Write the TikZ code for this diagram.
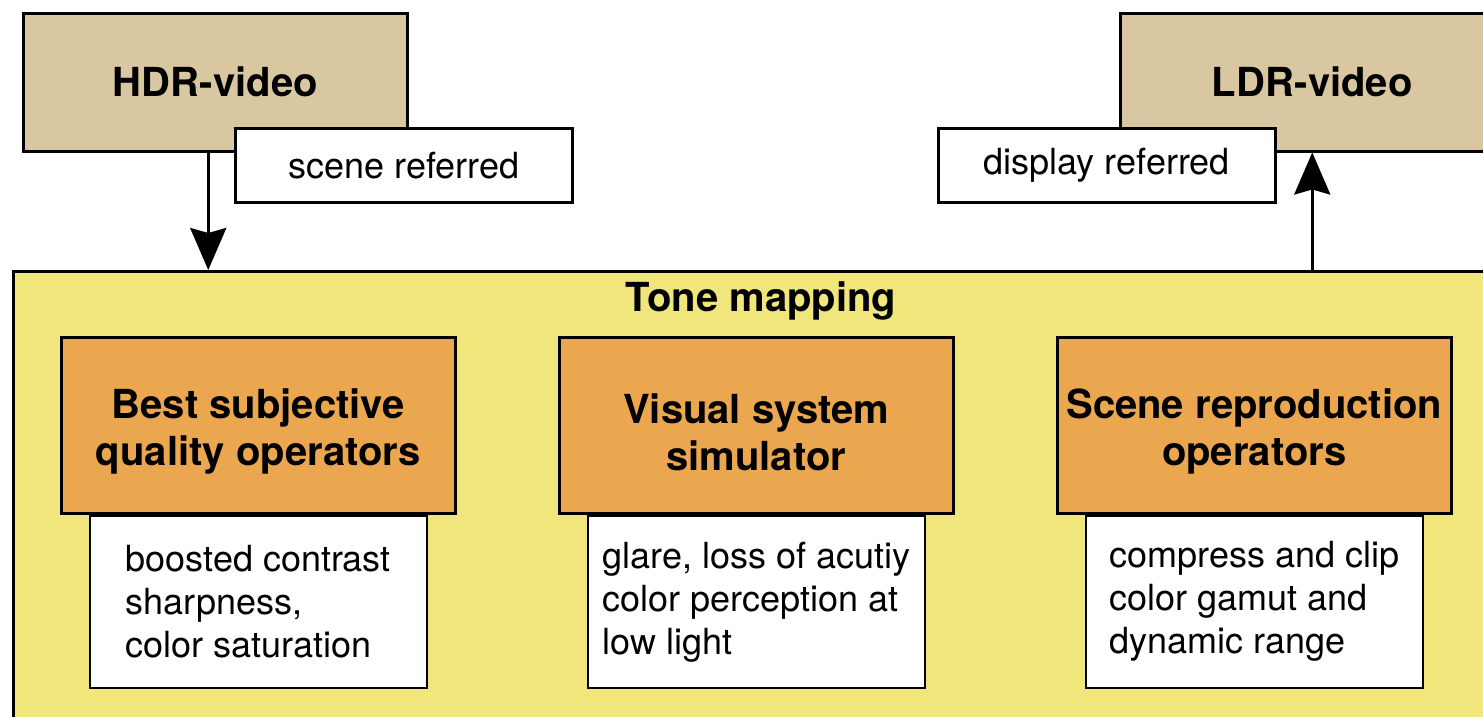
\documentclass[tikz,border=0pt]{standalone}
\usepackage{fontspec}
\setmainfont{TeX Gyre Heros}
\usetikzlibrary{positioning,arrows.meta}

\definecolor{videotan}{RGB}{217,199,162}
\definecolor{tmyellow}{RGB}{240,230,124}
\definecolor{oporange}{RGB}{235,166,80}

\newcommand{\oplift}{\rule{0pt}{43pt}}

\tikzset{every picture/.style={line width=2.5pt}}

\begin{document}
\begin{tikzpicture}[x=1pt,y=1pt,yscale=-1,xscale=1,
    videobox/.style={draw, fill=videotan, anchor=north west, minimum width=384pt, minimum height=138pt, inner sep=0pt, font=\fontsize{40}{47}\selectfont\bfseries},
    tagbox/.style={draw, fill=white, anchor=north west, minimum width=337pt, minimum height=74pt, inner sep=0pt, font=\fontsize{36}{43}\selectfont},
    opbox/.style={draw, fill=oporange, minimum width=394pt, minimum height=176pt, inner sep=0pt, align=center, font=\fontsize{40}{47}\selectfont\bfseries},
    descbox/.style={draw, fill=white, minimum width=337pt, minimum height=172pt, inner sep=0pt, align=left, font=\fontsize{36}{43}\selectfont},
    flow/.style={line width=3pt, -{Stealth[length=42pt,width=36pt,inset=5pt]}}]
  \useasboundingbox (0,0) rectangle (1483,716);
  \clip (0,0) rectangle (1483,716);

  % input / output videos
  \node[videobox] (hdr) at (22,12) {HDR-video};
  \node[tagbox] (scene) at (234,127) {scene referred};
  \node[videobox] (ldr) at (1119,12) {LDR-video};
  \node[tagbox] (display) at (937,127) {display referred};

  % tone mapping block
  \node[draw, fill=tmyellow, anchor=north west, minimum width=1498pt, minimum height=460pt] (tonemap) at (12,270) {};
  \node[font=\fontsize{40}{47}\selectfont\bfseries] (tmtitle) at (761,301) {Tone mapping};

  % operator classes
  \node[opbox, anchor=north west] (op1) at (60,336) {\oplift Best subjective\\quality operators};
  \node[opbox, right=101.5pt of op1] (op2) {\oplift Visual system\\simulator};
  \node[opbox, right=101.5pt of op2] (op3) {\oplift Scene reproduction\\operators};

  \node[descbox, below=0pt of op1] (desc1) {boosted contrast\\sharpness,\\color saturation};
  \node[descbox, below=0pt of op2] (desc2) {glare, loss of acutiy\\color perception at\\low light};
  \node[descbox, below=0pt of op3] (desc3) {compress and clip\\color gamut and\\dynamic range};

  % arrows
  \draw[flow] ([xshift=-7pt]hdr.south) -- ([xshift=-7pt]hdr.south |- tonemap.north);
  \draw[flow] (ldr.south |- tonemap.north) -- (ldr.south);
\end{tikzpicture}
\end{document}
